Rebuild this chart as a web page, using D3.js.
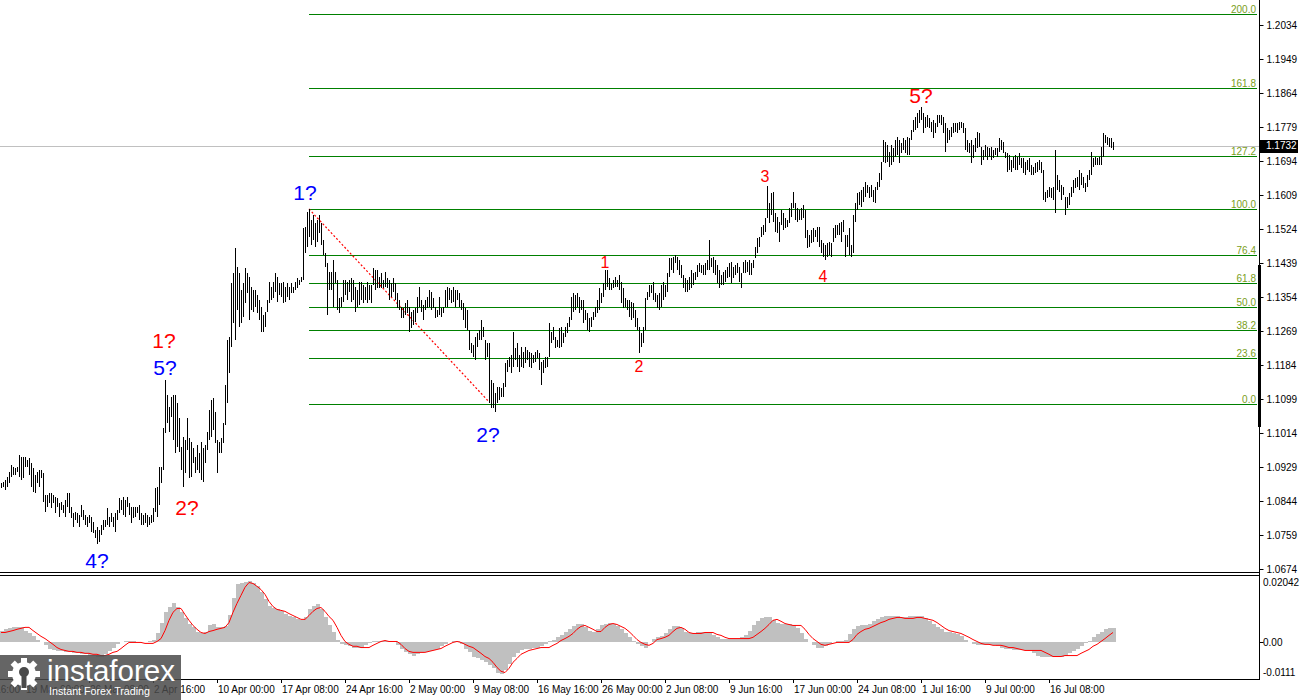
<!DOCTYPE html>
<html><head><meta charset="utf-8">
<script src="https://cdn.jsdelivr.net/npm/d3@7"></script>
<style>body{margin:0;background:#fff}svg{display:block}text{font-family:"Liberation Sans",Arial,sans-serif}</style>
</head><body><svg id="c" width="1300" height="700"></svg>
<script>
const highs=[1.0889,1.0892,1.0897,1.0904,1.0917,1.0934,1.0929,1.0927,1.0929,1.0959,
1.0954,1.0954,1.0954,1.0947,1.0952,1.0939,1.0927,1.0909,1.0917,1.0922,
1.0922,1.0914,1.0859,1.0859,1.0864,1.0864,1.0859,1.0854,1.0852,1.0839,
1.0842,1.0834,1.0847,1.0864,1.0864,1.0829,1.0814,1.0817,1.0814,1.0809,
1.0834,1.0822,1.0809,1.0804,1.0809,1.0804,1.0792,1.0772,1.0779,1.0772,
1.0784,1.0797,1.0797,1.0827,1.0804,1.0814,1.0804,1.0814,1.0822,1.0852,
1.0847,1.0854,1.0847,1.0854,1.0839,1.0829,1.0829,1.0829,1.0829,1.0834,
1.0814,1.0809,1.0814,1.0809,1.0804,1.0809,1.0827,1.0877,1.0879,1.0929,
1.0929,1.1027,1.1147,1.1109,1.1079,1.1104,1.1109,1.1109,1.1089,1.1052,
1.0979,1.1004,1.0997,1.1052,1.1002,1.0992,1.0977,1.0954,1.0984,1.0964,
1.0992,1.0977,1.0984,1.1017,1.1072,1.1097,1.1102,1.1067,1.0997,1.0992,
1.1002,1.1039,1.1134,1.1247,1.1254,1.1389,1.1414,1.1477,1.1429,1.1414,
1.1372,1.1389,1.1427,1.1414,1.1404,1.1379,1.1372,1.1372,1.1359,1.1347,
1.1329,1.1309,1.1317,1.1347,1.1392,1.1379,1.1392,1.1414,1.1404,1.1389,
1.1389,1.1392,1.1379,1.1389,1.1379,1.1389,1.1379,1.1392,1.1402,1.1397,
1.1404,1.1527,1.1529,
1.1567,1.1574,1.1547,1.1559,1.1539,1.1547,1.1559,1.1539,1.1497,1.1464,
1.1439,1.1417,1.1417,1.1447,1.1417,1.1397,1.1352,1.1354,1.1397,1.1397,
1.1392,1.1397,1.1402,1.1397,1.1379,1.1372,1.1392,1.1392,1.1384,1.1379,
1.1392,1.1384,1.1384,1.1427,1.1422,1.1422,1.1404,1.1414,1.1397,1.1417,
1.1402,1.1397,1.1389,1.1402,1.1389,1.1364,1.1347,1.1329,1.1327,1.1339,
1.1347,1.1329,1.1317,1.1322,1.1327,1.1354,1.1379,1.1347,1.1334,1.1347,
1.1354,1.1372,1.1367,1.1352,1.1329,1.1322,1.1354,1.1327,1.1329,1.1372,
1.1379,1.1377,1.1372,1.1379,1.1372,1.1372,1.1364,1.1347,1.1339,1.1327,
1.1322,1.1272,1.1239,1.1234,1.1254,1.1264,1.1272,1.1297,1.1279,1.1247,
1.1239,1.1239,1.1147,1.1139,1.1114,1.1129,1.1129,1.1127,1.1139,1.1189,
1.1197,1.1204,1.1209,1.1267,1.1227,1.1239,1.1209,1.1229,1.1217,1.1229,
1.1222,1.1217,1.1214,1.1209,1.1217,1.1222,1.1214,1.1192,1.1197,1.1204,
1.1204,1.1289,1.1267,1.1279,1.1254,1.1247,1.1277,1.1279,1.1264,1.1279,
1.1289,1.1304,1.1354,1.1364,1.1359,1.1364,1.1354,1.1347,1.1347,1.1322,
1.1314,1.1302,1.1304,1.1317,1.1329,1.1347,1.1377,1.1364,1.1389,1.1422,
1.1422,1.1402,1.1389,1.1397,1.1404,1.1397,1.1409,1.1392,1.1377,1.1352,
1.1347,1.1347,1.1342,1.1339,1.1322,1.1302,1.1279,1.1264,1.1279,1.1352,
1.1367,1.1384,1.1384,1.1392,1.1364,1.1359,1.1364,
1.1384,1.1392,1.1384,1.1414,1.1452,1.1452,1.1454,1.1459,1.1454,1.1447,
1.1434,1.1409,1.1402,1.1397,1.1404,1.1422,1.1414,1.1417,1.1434,1.1439,
1.1434,1.1434,1.1439,1.1447,1.1497,1.1452,1.1454,1.1447,1.1434,1.1422,
1.1409,1.1417,1.1422,1.1429,1.1439,1.1442,1.1429,1.1434,1.1439,1.1429,
1.1414,1.1442,1.1447,1.1442,1.1447,1.1439,1.1447,1.1479,1.1502,1.1504,
1.1529,1.1534,1.1552,1.1632,1.1589,1.1614,1.1617,1.1564,1.1554,1.1542,
1.1572,1.1564,1.1552,1.1547,1.1577,1.1589,1.1617,1.1589,1.1577,1.1572,
1.1577,1.1584,1.1572,1.1522,1.1509,1.1522,1.1527,1.1522,1.1529,1.1529,
1.1497,1.1489,1.1484,1.1489,1.1492,1.1489,1.1527,1.1534,1.1534,1.1539,
1.1542,1.1547,1.1509,1.1509,1.1527,1.1484,1.1559,1.1589,1.1614,1.1617,
1.1622,1.1629,1.1642,1.1634,1.1629,1.1634,1.1622,1.1629,1.1642,1.1664,1.1692,
1.1747,1.1742,1.1734,1.1717,1.1734,1.1727,1.1747,1.1754,1.1747,1.1739,
1.1752,1.1747,1.1754,1.1752,1.1772,1.1797,1.1804,1.1814,1.1822,1.1829,
1.1814,1.1804,1.1809,1.1802,1.1792,1.1797,1.1789,1.1809,1.1809,1.1809,
1.1804,1.1789,1.1777,1.1772,1.1779,1.1789,1.1789,1.1789,1.1792,1.1792,
1.1789,1.1777,1.1747,1.1739,1.1747,1.1734,1.1752,1.1767,1.1764,1.1729,
1.1722,1.1734,1.1729,1.1727,1.1729,1.1722,1.1727,1.1727,1.1752,1.1747,
1.1742,1.1717,1.1714,1.1709,1.1697,1.1704,1.1709,1.1704,1.1714,1.1702,
1.1702,1.1692,1.1697,1.1702,1.1684,1.1679,1.1689,1.1692,1.1697,1.1692,
1.1672,1.1617,1.1622,1.1629,1.1627,1.1629,1.1722,1.1659,1.1647,1.1634,
1.1629,1.1604,1.1604,1.1614,1.1629,1.1647,1.1652,1.1654,1.1672,1.1664,
1.1654,1.1639,1.1659,1.1672,1.1717,1.1702,1.1704,1.1702,1.1704,1.1729,
1.1764,1.1759,1.1754,1.1752,1.1752,1.1742];
const lows=[1.0877,1.0879,1.0872,1.0879,1.0889,1.0904,1.0909,1.0909,1.0917,1.0904,
1.0897,1.0902,1.0929,1.0929,1.0909,1.0879,1.0867,1.0864,1.0889,1.0879,
1.0902,1.0842,1.0817,1.0829,1.0839,1.0827,1.0839,1.0814,1.0829,1.0804,
1.0822,1.0814,1.0804,1.0829,1.0814,1.0802,1.0779,1.0797,1.0789,1.0779,
1.0804,1.0797,1.0784,1.0779,1.0789,1.0767,1.0764,1.0752,1.0737,1.0742,
1.0759,1.0772,1.0779,1.0784,1.0779,1.0792,1.0779,1.0767,1.0797,1.0814,
1.0822,1.0809,1.0804,1.0829,1.0809,1.0789,1.0802,1.0804,1.0814,1.0797,
1.0784,1.0784,1.0789,1.0779,1.0784,1.0789,1.0792,1.0817,1.0804,1.0834,
1.0889,1.0922,1.1014,1.1039,1.1017,1.1054,1.0997,1.0964,1.0979,1.0967,
1.0922,1.0879,1.0914,1.0972,1.0902,1.0904,1.0939,1.0914,1.0922,1.0914,
1.0897,1.0892,1.0939,1.0972,1.0997,1.1004,1.1022,1.0989,1.0914,1.0964,
1.0964,1.0989,1.1034,1.1089,1.1164,1.1229,1.1289,1.1247,1.1322,1.1279,
1.1289,1.1304,1.1339,1.1364,1.1297,1.1322,1.1317,1.1329,1.1314,1.1297,
1.1267,1.1267,1.1279,1.1317,1.1339,1.1347,1.1352,1.1367,1.1342,1.1359,
1.1354,1.1339,1.1342,1.1354,1.1347,1.1364,1.1364,1.1372,1.1377,1.1384,
1.1392,1.1397,1.1464,
1.1479,1.1504,1.1484,1.1497,1.1479,1.1492,1.1514,1.1484,1.1459,1.1429,
1.1309,1.1372,1.1372,1.1329,1.1389,1.1322,1.1314,1.1329,1.1342,1.1359,
1.1347,1.1367,1.1342,1.1347,1.1317,1.1329,1.1334,1.1347,1.1339,1.1347,
1.1339,1.1347,1.1339,1.1384,1.1372,1.1377,1.1377,1.1377,1.1377,1.1379,
1.1377,1.1347,1.1354,1.1367,1.1347,1.1327,1.1322,1.1302,1.1302,1.1309,
1.1314,1.1267,1.1277,1.1284,1.1292,1.1314,1.1329,1.1317,1.1297,1.1322,
1.1327,1.1329,1.1322,1.1327,1.1302,1.1304,1.1309,1.1304,1.1314,1.1329,
1.1329,1.1347,1.1339,1.1342,1.1329,1.1347,1.1329,1.1322,1.1297,1.1277,
1.1272,1.1222,1.1214,1.1204,1.1197,1.1229,1.1247,1.1247,1.1254,1.1197,
1.1204,1.1089,1.1077,1.1077,1.1067,1.1089,1.1097,1.1104,1.1104,1.1129,
1.1167,1.1179,1.1164,1.1179,1.1197,1.1179,1.1167,1.1179,1.1177,1.1189,
1.1197,1.1179,1.1177,1.1189,1.1192,1.1202,1.1172,1.1134,1.1164,1.1177,
1.1179,1.1204,1.1239,1.1247,1.1227,1.1229,1.1227,1.1229,1.1239,1.1254,
1.1264,1.1279,1.1297,1.1317,1.1322,1.1329,1.1314,1.1322,1.1289,1.1297,
1.1272,1.1267,1.1279,1.1297,1.1304,1.1314,1.1322,1.1339,1.1354,1.1372,
1.1379,1.1372,1.1372,1.1377,1.1379,1.1379,1.1372,1.1339,1.1327,1.1329,
1.1322,1.1304,1.1297,1.1302,1.1279,1.1272,1.1214,1.1229,1.1239,1.1272,
1.1347,1.1354,1.1364,1.1347,1.1342,1.1327,1.1322,
1.1329,1.1347,1.1354,1.1367,1.1404,1.1422,1.1414,1.1439,1.1422,1.1409,
1.1402,1.1377,1.1367,1.1367,1.1372,1.1377,1.1384,1.1397,1.1404,1.1417,
1.1414,1.1409,1.1409,1.1422,1.1422,1.1429,1.1414,1.1409,1.1389,1.1377,
1.1384,1.1384,1.1392,1.1402,1.1404,1.1389,1.1402,1.1409,1.1414,1.1392,
1.1377,1.1414,1.1414,1.1417,1.1409,1.1409,1.1427,1.1452,1.1464,1.1479,
1.1504,1.1509,1.1517,1.1552,1.1539,1.1559,1.1542,1.1517,1.1514,1.1492,
1.1534,1.1522,1.1527,1.1529,1.1539,1.1554,1.1577,1.1547,1.1542,1.1547,
1.1547,1.1552,1.1502,1.1477,1.1479,1.1489,1.1492,1.1504,1.1492,1.1479,
1.1464,1.1454,1.1447,1.1454,1.1459,1.1454,1.1492,1.1502,1.1509,1.1509,
1.1492,1.1517,1.1454,1.1479,1.1459,1.1454,1.1464,1.1542,1.1572,1.1584,
1.1579,1.1592,1.1604,1.1614,1.1602,1.1604,1.1592,1.1589,1.1622,1.1629,1.1647,
1.1692,1.1689,1.1692,1.1679,1.1684,1.1692,1.1704,1.1709,1.1689,1.1714,
1.1722,1.1714,1.1709,1.1709,1.1747,1.1767,1.1772,1.1777,1.1789,1.1797,
1.1764,1.1777,1.1779,1.1777,1.1767,1.1752,1.1764,1.1779,1.1789,1.1784,
1.1764,1.1717,1.1739,1.1747,1.1754,1.1764,1.1767,1.1764,1.1772,1.1777,
1.1764,1.1722,1.1717,1.1714,1.1689,1.1702,1.1717,1.1727,1.1729,1.1684,
1.1697,1.1704,1.1697,1.1704,1.1697,1.1702,1.1709,1.1704,1.1717,1.1722,
1.1714,1.1702,1.1667,1.1672,1.1667,1.1677,1.1672,1.1672,1.1684,1.1677,
1.1664,1.1659,1.1672,1.1667,1.1659,1.1659,1.1664,1.1667,1.1672,1.1664,
1.1597,1.1592,1.1602,1.1604,1.1602,1.1597,1.1564,1.1622,1.1617,1.1597,
1.1609,1.1559,1.1577,1.1584,1.1604,1.1614,1.1627,1.1629,1.1622,1.1634,
1.1627,1.1617,1.1629,1.1647,1.1659,1.1679,1.1684,1.1684,1.1684,1.1684,
1.1704,1.1739,1.1734,1.1729,1.1727,1.1722];
const lastPrice=1.1732;
// MACD main (histogram) and signal, one value every second bar
const macdMain=[.0037,.0041,.0044,.0047,.0047,.0047,.0037,.0028,.0019,.0009,
0,-.0009,-.0019,-.0025,-.0028,-.0028,-.0031,-.0031,-.0034,-.0034,
-.0037,-.0037,-.0041,-.0041,-.0044,-.0044,-.0037,-.0028,-.0016,-.0006,
0,.0003,.0006,.0003,0,0,0,.0003,.0009,.0028,
.0062,.0094,.0112,.0122,.0112,.0094,.0075,.0059,.0047,.0034,
.0028,.0031,.0053,.0056,.0047,.0047,.0050,.0087,.0140,.0181,
.0187,.0190,.0193,.0187,.0175,.0156,.0134,.0115,.0106,.0103,
.0097,.0090,.0084,.0078,.0072,.0069,.0078,.0103,.0115,.0119,
.0103,.0078,.0053,.0031,.0009,-.0006,-.0009,-.0012,-.0016,-.0016,
-.0016,-.0009,-.0003,.0003,.0006,.0006,.0003,.0003,0,-.0009,
-.0022,-.0031,-.0037,-.0041,-.0037,-.0034,-.0031,-.0028,-.0025,-.0019,
-.0012,-.0006,0,.0006,.0006,-.0006,-.0019,-.0031,-.0044,-.0050,
-.0056,-.0062,-.0069,-.0081,-.0094,-.0097,-.0087,-.0066,-.0047,-.0034,
-.0025,-.0022,-.0019,-.0016,-.0016,-.0012,-.0006,.0003,.0009,.0016,
.0022,.0031,.0041,.0050,.0056,.0056,.0047,.0037,.0031,.0041,
.0053,.0059,.0062,.0059,.0050,.0041,.0028,.0016,.0003,-.0006,
-.0012,-.0016,0,.0012,.0016,.0019,.0028,.0041,.0050,.0050,
.0044,.0034,.0028,.0028,.0031,.0031,.0031,.0028,.0022,.0016,
.0012,.0012,.0012,.0012,.0012,.0016,.0022,.0037,.0053,.0066,
.0075,.0078,.0078,.0069,.0062,.0059,.0056,.0056,.0053,.0044,
.0028,.0012,0,-.0009,-.0016,-.0016,-.0012,-.0006,0,.0003,
.0003,.0009,.0025,.0041,.0050,.0053,.0053,.0059,.0066,.0072,
.0078,.0081,.0084,.0084,.0081,.0078,.0078,.0081,.0084,.0084,
.0081,.0075,.0066,.0056,.0047,.0041,.0034,.0031,.0028,.0025,
.0019,.0009,0,-.0006,-.0009,-.0009,-.0009,-.0009,-.0009,-.0012,
-.0016,-.0019,-.0022,-.0025,-.0025,-.0025,-.0025,-.0028,-.0034,-.0041,
-.0047,-.0047,-.0047,-.0047,-.0044,-.0044,-.0041,-.0034,-.0028,-.0019,
-.0012,-.0003,.0006,.0016,.0025,.0034,.0041,.0044,.0044];
const macdSignal=[.0031,.0031,.0034,.0037,.0041,.0044,.0047,.0047,.0037,.0028,
.0019,.0012,.0003,-.0006,-.0016,-.0022,-.0025,-.0028,-.0028,-.0031,
-.0031,-.0034,-.0034,-.0037,-.0037,-.0041,-.0041,-.0037,-.0031,-.0028,
-.0019,-.0009,0,0,0,0,-.0003,-.0003,-.0003,.0003,
.0012,.0037,.0069,.0094,.0106,.0106,.0087,.0069,.0053,.0041,
.0031,.0028,.0034,.0037,.0041,.0044,.0047,.0062,.0094,.0122,
.0147,.0172,.0187,.0184,.0175,.0165,.0150,.0128,.0112,.0103,
.0100,.0097,.0090,.0084,.0078,.0072,.0072,.0084,.0097,.0106,
.0109,.0097,.0081,.0069,.0047,.0022,.0003,-.0006,-.0012,-.0012,
-.0016,-.0016,-.0016,-.0009,-.0003,.0003,.0006,.0003,.0003,.0003,
-.0006,-.0019,-.0028,-.0031,-.0031,-.0031,-.0031,-.0028,-.0025,-.0022,
-.0019,-.0012,-.0006,0,.0003,0,-.0006,-.0012,-.0016,-.0025,
-.0034,-.0044,-.0050,-.0062,-.0078,-.0090,-.0094,-.0081,-.0062,-.0050,
-.0037,-.0031,-.0025,-.0022,-.0019,-.0016,-.0016,-.0016,-.0009,-.0003,
.0006,.0012,.0019,.0028,.0041,.0050,.0053,.0047,.0041,.0034,
.0034,.0047,.0056,.0059,.0056,.0050,.0044,.0034,.0022,.0009,
0,-.0006,-.0009,-.0003,.0009,.0012,.0016,.0022,.0034,.0044,
.0047,.0041,.0031,.0028,.0028,.0028,.0031,.0031,.0031,.0025,
.0022,.0016,.0012,.0012,.0012,.0012,.0012,.0012,.0016,.0025,
.0034,.0044,.0056,.0069,.0072,.0066,.0059,.0056,.0053,.0053,
.0053,.0041,.0025,.0012,.0003,-.0006,-.0009,-.0006,-.0003,0,
0,0,0,.0009,.0025,.0034,.0041,.0044,.0050,.0056,
.0062,.0066,.0072,.0075,.0078,.0078,.0075,.0075,.0075,.0078,
.0078,.0075,.0072,.0069,.0062,.0053,.0044,.0037,.0034,.0031,
.0028,.0022,.0016,.0009,.0003,-.0003,-.0006,-.0006,-.0009,-.0009,
-.0009,-.0012,-.0016,-.0016,-.0019,-.0022,-.0025,-.0025,-.0025,-.0025,
-.0025,-.0031,-.0037,-.0044,-.0044,-.0044,-.0041,-.0041,-.0041,-.0041,
-.0034,-.0028,-.0022,-.0012,-.0006,.0003,.0012,.0022,.0031];
const priceTicks=[1.2034,1.1949,1.1864,1.1779,1.1694,1.1609,1.1524,1.1439,1.1354,1.1269,1.1184,1.1099,1.1014,1.0929,1.0844,1.0759,1.0674];
const macdTicks=[0.02042,0,-0.0111];
const macdTickLabels=["0.02042","0.00","-0.0111"];
const timeLabels=["11 Mar 16:00","19 Mar 00:00","26 Mar 08:00","2 Apr 16:00","10 Apr 00:00","17 Apr 08:00","24 Apr 16:00","2 May 00:00","9 May 08:00","16 May 16:00","26 May 00:00","2 Jun 08:00","9 Jun 16:00","17 Jun 00:00","24 Jun 08:00","1 Jul 16:00","9 Jul 00:00","16 Jul 08:00"];
const timeLabelBars=[-20,12,44,76,108,140,172,204,236,268,300,332,364,396,428,460,492,524];
const fibLevels=[0,23.6,38.2,50,61.8,76.4,100,127.2,161.8,200];
const fibLabels=["0.0","23.6","38.2","50.0","61.8","76.4","100.0","127.2","161.8","200.0"];
const fibLow=1.10865, fibHigh=1.1574, fibStartBar=154;
const trendPoints=[{bar:154,price:1.1574},{bar:244,price:1.1092}];
const waveLabels=[
 {t:"1?",bar:81.5,price:1.1227,c:"#ff0000",big:true},
 {t:"5?",bar:82,price:1.1159,c:"#0000ff",big:true},
 {t:"2?",bar:93,price:1.0809,c:"#ff0000",big:true},
 {t:"4?",bar:48,price:1.0677,c:"#0000ff",big:true},
 {t:"1?",bar:152,price:1.1597,c:"#0000ff",big:true},
 {t:"2?",bar:243.5,price:1.0992,c:"#0000ff",big:true},
 {t:"1",bar:302,price:1.1427,c:"#ff0000",big:false},
 {t:"2",bar:319,price:1.1167,c:"#ff0000",big:false},
 {t:"3",bar:382,price:1.1642,c:"#ff0000",big:false},
 {t:"4",bar:411,price:1.1392,c:"#ff0000",big:false},
 {t:"5?",bar:460,price:1.1839,c:"#ff0000",big:true}
];

const svg=d3.select("#c");
const n=highs.length;
const AX=1259.5;
const x=d3.scaleLinear().domain([0,n-1]).range([1,1+2*(n-1)]);
const yP=d3.scaleLinear().domain([1.06665,1.20965]).range([572,0]);
const yM=d3.scaleLinear().domain([-0.0111,0.02042]).range([678,577]);
const px=v=>Math.round(v)+0.5;

// current price line
svg.append("line").attr("x1",0).attr("x2",AX).attr("y1",px(yP(lastPrice))).attr("y2",px(yP(lastPrice)))
 .attr("stroke","#c0c0c0").attr("stroke-width",1).attr("shape-rendering","crispEdges");

// fibonacci levels
const fg=svg.append("g");
fibLevels.forEach((lv,j)=>{
 const p=fibLow+(fibHigh-fibLow)*lv/100;
 const yy=px(yP(p));
 fg.append("line").attr("x1",Math.round(x(fibStartBar))).attr("x2",1257).attr("y1",yy).attr("y2",yy)
  .attr("stroke","#008000").attr("stroke-width",1).attr("shape-rendering","crispEdges");
 fg.append("text").attr("x",1256).attr("y",yy-2).attr("text-anchor","end")
  .attr("font-size",10).attr("fill","#7a9e1a").text(fibLabels[j]);
});

// trend line
svg.append("line").attr("x1",x(trendPoints[0].bar)).attr("y1",yP(trendPoints[0].price))
 .attr("x2",x(trendPoints[1].bar)).attr("y2",yP(trendPoints[1].price))
 .attr("stroke","#ff0000").attr("stroke-width",1.2).attr("stroke-dasharray","2,2");

// price bars
svg.append("g").attr("shape-rendering","crispEdges").selectAll("line").data(d3.range(n)).join("line")
 .attr("x1",i=>px(x(i))).attr("x2",i=>px(x(i)))
 .attr("y1",i=>Math.round(yP(highs[i])))
 .attr("y2",i=>Math.max(Math.round(yP(lows[i])),Math.round(yP(highs[i]))+2))
 .attr("stroke","#000").attr("stroke-width",1);

// wave labels
svg.append("g").selectAll("text").data(waveLabels).join("text")
 .attr("x",d=>x(d.bar)).attr("y",d=>yP(d.price)).attr("text-anchor","middle")
 .attr("font-size",d=>d.big?21:16).attr("fill",d=>d.c).text(d=>d.t);

// right price axis
const ax=d3.axisRight(yP).tickValues(priceTicks).tickSize(4).tickPadding(3).tickFormat(d3.format(".4f"));
const ag=svg.append("g").attr("transform",`translate(${AX},0)`).call(ax);
ag.select(".domain").remove();
ag.selectAll("text").attr("font-size",10).attr("fill","#000").attr("font-family","Liberation Sans, Arial, sans-serif");
ag.selectAll("line").attr("stroke","#000");
svg.append("line").attr("x1",AX).attr("x2",AX).attr("y1",0).attr("y2",680).attr("stroke","#000").attr("shape-rendering","crispEdges");
svg.append("rect").attr("x",1258).attr("y",265).attr("width",3).attr("height",162).attr("fill","#000");
// last price box
const lpY=yP(lastPrice);
svg.append("rect").attr("x",1260).attr("y",Math.round(lpY)-6).attr("width",38).attr("height",13).attr("fill","#000");
svg.append("text").attr("x",1266).attr("y",lpY).attr("dy","0.35em").attr("font-size",10).attr("fill","#fff").text(d3.format(".4f")(lastPrice));

// window separators
svg.append("line").attr("x1",0).attr("x2",AX).attr("y1",572.5).attr("y2",572.5).attr("stroke","#000").attr("shape-rendering","crispEdges");
svg.append("rect").attr("x",-1).attr("y",575.5).attr("width",AX+1).attr("height",104).attr("fill","none").attr("stroke","#000").attr("shape-rendering","crispEdges");

// MACD histogram
svg.append("g").attr("shape-rendering","crispEdges").selectAll("rect").data(macdMain).join("rect")
 .attr("x",(d,k)=>Math.round(x(2*k))-1).attr("width",4)
 .attr("y",d=>yM(Math.max(0,d))).attr("height",d=>Math.abs(yM(d)-yM(0)))
 .attr("fill","#c0c0c0");
// MACD signal
svg.append("path").datum(macdSignal).attr("fill","none").attr("stroke","#ff0000").attr("stroke-width",1)
 .attr("d",d3.line().x((d,k)=>x(2*k)).y(d=>yM(d)));
// MACD scale
const mOff=[5,0,-6];
macdTicks.forEach((v,j)=>{
 svg.append("text").attr("x",1263).attr("y",yM(v)+mOff[j]).attr("dy","0.35em").attr("font-size",10).attr("fill","#000").text(macdTickLabels[j]);
});
svg.append("line").attr("x1",AX).attr("x2",AX+4).attr("y1",px(yM(0))).attr("y2",px(yM(0))).attr("stroke","#000");

// time axis
const tg=svg.append("g");
timeLabels.forEach((t,j)=>{
 const xx=x(timeLabelBars[j]);
 tg.append("line").attr("x1",px(xx)).attr("x2",px(xx)).attr("y1",680).attr("y2",683).attr("stroke","#000");
 tg.append("text").attr("x",xx+1).attr("y",693).attr("font-size",10).attr("fill","#000").text(t);
});

// watermark
const wm=svg.append("g");
wm.append("rect").attr("x",0).attr("y",655).attr("width",181).attr("height",45).attr("fill","#4a4a4a").attr("opacity",0.85);
const gear=wm.append("g").attr("transform","translate(24,674)");
d3.range(8).forEach(k=>{
 gear.append("rect").attr("x",-3).attr("y",-16).attr("width",6).attr("height",7).attr("fill","#fff")
  .attr("transform",`rotate(${k*45})`);
});
gear.append("circle").attr("r",12).attr("fill","#fff");
gear.append("circle").attr("r",5).attr("cy",-2).attr("fill","#4a4a4a");
gear.append("rect").attr("x",-2.5).attr("y",2).attr("width",5).attr("height",12).attr("fill","#4a4a4a");
wm.append("text").attr("x",47).attr("y",681).attr("font-size",30).attr("fill","#fff")
 .attr("font-family","Lato, 'Open Sans', sans-serif").attr("textLength",128).attr("lengthAdjust","spacingAndGlyphs").text("instaforex");
wm.append("text").attr("x",49).attr("y",695).attr("font-size",11).attr("fill","#fff")
 .attr("font-family","Lato, 'Open Sans', sans-serif").attr("textLength",101).attr("lengthAdjust","spacingAndGlyphs").text("Instant Forex Trading");
</script></body></html>
